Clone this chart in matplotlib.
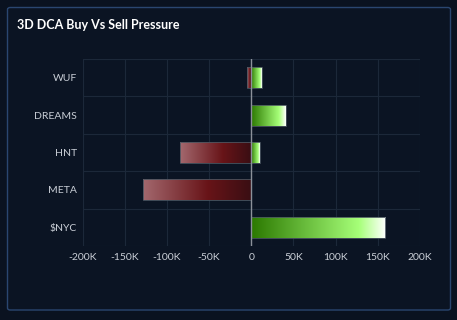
import numpy as np
import matplotlib
matplotlib.use('Agg')
import matplotlib.pyplot as plt
from matplotlib.colors import LinearSegmentedColormap
from matplotlib.patches import FancyBboxPatch

# data (values in K)
tokens = ['WUF', 'DREAMS', 'HNT', 'META', '$NYC']
buy = [12.5, 41, 10, 0, 159]
sell = [-5.5, 0, -84, -128, 0]
xticks = [-200, -150, -100, -50, 0, 50, 100, 150, 200]
xticklabels = ['-200K', '-150K', '-100K', '-50K', '0', '50K', '100K', '150K', '200K']

plt.rcParams['font.family'] = ['Lato', 'DejaVu Sans']

bg = '#0a1220'
card = '#0b1423'
txt = '#c9ced6'

green = LinearSegmentedColormap.from_list('g', [(0, '#2b7800'), (0.8, '#a6ff78'), (1, '#ffffff')])
red = LinearSegmentedColormap.from_list('r', [(0, '#3a0e13'), (0.4, '#681418'), (1, '#a3686e')])

fig = plt.figure(figsize=(4.57, 3.2), dpi=100)
fig.patch.set_facecolor(bg)

# card with rounded border
box = FancyBboxPatch((7.5 / 457, 10 / 320), 443 / 457, 302.5 / 320,
                     boxstyle='round,pad=0,rounding_size=0.006',
                     transform=fig.transFigure, facecolor=card,
                     edgecolor='#2a4670', lw=1, zorder=-5)
fig.patches.append(box)

fig.text(17 / 457, 1 - 25 / 320, '3D DCA Buy Vs Sell Pressure', color='white',
         fontsize=9, fontweight='bold', va='center', ha='left')

ax = fig.add_axes([82.5 / 457, 1 - 246 / 320, (420 - 82.5) / 457, (246 - 59) / 320])
ax.set_facecolor(card)

y = np.arange(len(tokens))
h = 0.56


def grad_bar(val, yi, cmap):
    if val == 0:
        return
    bar = ax.barh(yi, val, height=h, color='none', edgecolor='#4a5560', lw=0.6, zorder=3)[0]
    img = np.linspace(0, 1, 256).reshape(1, -1)
    left, right = (0, val) if val > 0 else (val, 0)
    if val < 0:
        img = img[:, ::-1]
    im = ax.imshow(img, cmap=cmap, aspect='auto', extent=[left, right, yi - h / 2, yi + h / 2],
                   zorder=2, interpolation='bilinear')
    im.set_clip_path(bar)


for i in range(len(tokens)):
    grad_bar(sell[i], y[i], red)
    grad_bar(buy[i], y[i], green)

ax.set_xlim(-200, 200)
ax.set_ylim(len(tokens) - 0.5, -0.5)
ax.set_xticks(xticks)
ax.set_xticklabels(xticklabels)
ax.set_yticks(y)
ax.set_yticklabels(tokens)

ax.set_yticks(np.arange(-0.5, len(tokens), 1), minor=True)
ax.grid(True, which='major', axis='x', color='#1c2839', lw=0.8, zorder=0)
ax.grid(True, which='minor', axis='y', color='#1c2839', lw=0.8, zorder=0)
ax.axvline(0, color='#8c919a', lw=1, zorder=4)

for s in ax.spines.values():
    s.set_visible(False)
ax.tick_params(axis='both', which='both', length=0, colors=txt, labelsize=7.5)
ax.tick_params(axis='y', pad=4)
ax.tick_params(axis='x', pad=5)

fig.savefig('out.png', dpi=100, facecolor=bg)
